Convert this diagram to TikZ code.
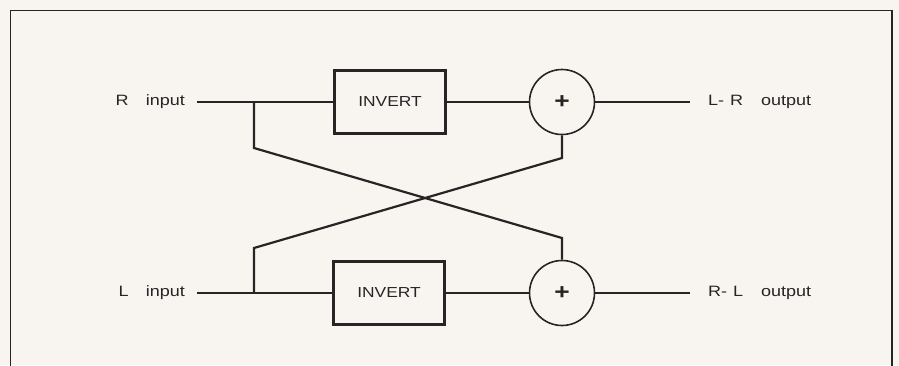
\documentclass[tikz,border=0pt]{standalone}
\usepackage{fontspec}
\newfontfamily\diagfont[FakeStretch=1.2]{Liberation Sans}
\definecolor{paper}{RGB}{248,245,241}
\definecolor{ink}{RGB}{38,36,36}
\begin{document}
\begin{tikzpicture}[x=1pt,y=-1pt,
  wire/.style={draw=ink,line width=2.2pt},
  invbox/.style={draw=ink,line width=2.2pt,minimum width=111pt,minimum height=63pt,
    inner sep=0pt,font=\diagfont\fontsize{14.5}{16}\selectfont,text=ink},
  sumnode/.style={circle,draw=ink,line width=1.6pt,minimum size=65pt,inner sep=0pt,
    font=\diagfont\fontsize{22}{24}\selectfont\bfseries,text=ink},
  lbl/.style={font=\diagfont\fontsize{15}{17}\selectfont,text=ink,inner ysep=0pt}]
\useasboundingbox (0,0) rectangle (899,365);
\fill[paper] (0,0) rectangle (899,365);
% frame
\draw[ink,line width=1.6pt] (10.5,366) -- (10.5,10.5) -- (892,10.5) -- (892,366);

% inputs
\node[lbl,anchor=east,inner xsep=12pt] (rin) at (197,102) {R\hspace{1.15em}input};
\node[lbl,anchor=east,inner xsep=12pt] (lin) at (197,293) {L\hspace{1.15em}input};

% inverters
\node[invbox] (inv1) at (390,102) {INVERT};
\node[invbox] (inv2) at (389,293) {INVERT};

% summing junctions
\node[sumnode] (sum1) at (562,102) {+};
\node[sumnode] (sum2) at (562,293) {+};

% outputs
\node[lbl,anchor=west,inner xsep=18pt] (rout) at (690,102) {L-\hspace{0.4em}R\hspace{1.2em}output};
\node[lbl,anchor=west,inner xsep=18pt] (lout) at (690,293) {R-\hspace{0.4em}L\hspace{1.2em}output};

% branch points and bends of the cross-over
\coordinate (j1) at (254,102);
\coordinate (k1) at (254,148);
\coordinate (m1) at (562,238);
\coordinate (j2) at (254,293);
\coordinate (k2) at (254,248);
\coordinate (m2) at (562,158);

% main signal paths
\draw[wire] (rin.east) -- (inv1.west);
\draw[wire] (inv1.east) -- (sum1.west);
\draw[wire] (sum1.east) -- (rout.west);
\draw[wire] (lin.east) -- (inv2.west);
\draw[wire] (inv2.east) -- (sum2.west);
\draw[wire] (sum2.east) -- (lout.west);

% cross-over
\draw[wire,line join=miter] (j1) -- (k1) -- (m1) -- (sum2.north);
\draw[wire,line join=miter] (j2) -- (k2) -- (m2) -- (sum1.south);
\end{tikzpicture}
\end{document}
